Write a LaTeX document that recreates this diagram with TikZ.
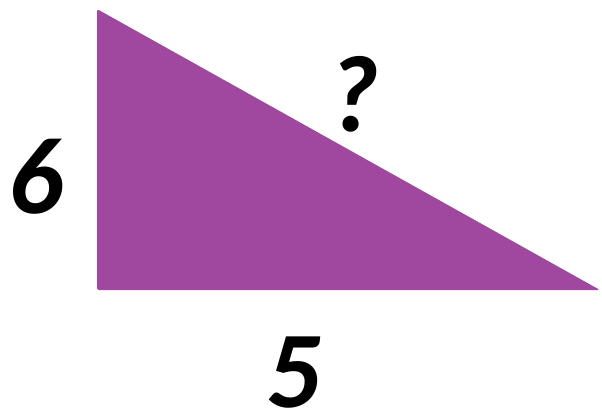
\documentclass[tikz,border=0pt]{standalone}
\usepackage{fontspec}
\setmainfont{Carlito}
\usetikzlibrary{positioning}

\definecolor{triPurple}{RGB}{160,71,160}

\begin{document}
\begin{tikzpicture}[x=0.02cm, y=-0.02cm,
    every node/.style={font=\fontsize{62}{62}\selectfont\bfseries\itshape, inner sep=0pt}]
  % frame
  \useasboundingbox (0,0) rectangle (602,417);
  % triangle corners
  \coordinate (top) at (97,9);
  \coordinate (corner) at (97,290);
  \coordinate (right) at (600,290);
  \fill[triPurple, rounded corners=1pt] (top) -- (corner) -- (right) -- cycle;
  % side labels
  \node (six) at (36,177) {6};
  \node (hyp) at (354,94) {?};
  \node (five) at (294,373) {5};
\end{tikzpicture}
\end{document}
